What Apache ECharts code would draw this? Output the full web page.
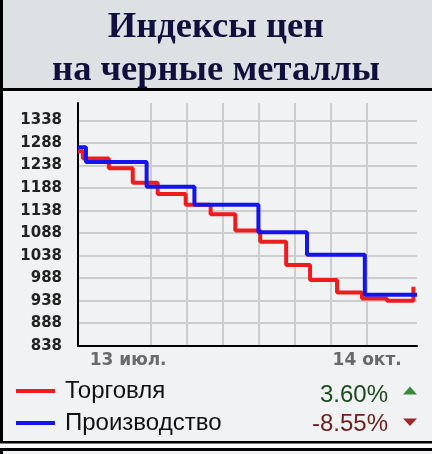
<!DOCTYPE html>
<html><head><meta charset="utf-8">
<script src="https://cdn.jsdelivr.net/npm/echarts@6/dist/echarts.min.js"></script>
<style>html,body{margin:0;padding:0;background:#f0f2f3;}#c{width:432px;height:454px;}</style>
</head><body><div id="c"></div>
<script>
const titleLines = ['Индексы цен', 'на черные металлы'];
const seriesNames = ['Торговля', 'Производство'];
const seriesColors = ['#ee1c1c', '#1414ee'];
// x values: days since 23 Jun 2008
const tradeDays = [0.5, 2.4, 12.5, 21.8, 31.5, 42.4, 52.1, 61.7, 71.4, 81.5, 90.8, 101.3, 111.0, 120.7, 131.0];
const tradeValues = [1270, 1254, 1232, 1200, 1175, 1151, 1130, 1094, 1069, 1017, 984, 956, 943, 938, 969];
const prodDays = [0.5, 3.6, 27.2, 45.8, 70.7, 89.6, 112.1, 132.4];
const prodValues = [1279, 1246, 1191, 1151, 1090, 1040, 951, 951];
const gridDays = [15, 29, 43, 57, 71, 85, 99, 113, 127];
const labelDays = [20, 113];
const labelTexts = ['13 июл.', '14 окт.'];
const changeTexts = ['3.60%', '-8.55%'];
const changeColors = ['#1f4a1f', '#6e1e1e'];
const arrowColors = ['#3a8a3a', '#9c2a2a'];
const yMin = 838, yMax = 1377, yStep = 50;
const xMin = 0.5, xMax = 132.4;

const chart = echarts.init(document.getElementById('c'), null, {renderer: 'canvas'});
const toPairs = (xs, ys) => xs.map((x, i) => [x, ys[i]]);
chart.setOption({
  animation: false,
  backgroundColor: '#f0f2f3',
  title: {
    text: titleLines.join('\n'), left: 'center', top: 1,
    textStyle: {fontFamily: 'Liberation Serif', fontWeight: 'bold', fontSize: 36.5, lineHeight: 43, color: '#10103e'}
  },
  graphic: [
    {type: 'rect', z: -10, shape: {x: 0, y: 0, width: 432, height: 88}, style: {fill: '#dde1e3'}},
    {type: 'rect', z: 10, shape: {x: 0, y: 88, width: 432, height: 3}, style: {fill: '#000'}},
    {type: 'rect', z: 10, shape: {x: 0, y: 0, width: 3, height: 443}, style: {fill: '#000'}},
    {type: 'rect', z: 10, shape: {x: 0, y: 441, width: 432, height: 2.5}, style: {fill: '#000'}},
    {type: 'rect', z: -10, shape: {x: 0, y: 443.5, width: 432, height: 4.5}, style: {fill: '#fafafa'}},
    {type: 'rect', z: 10, shape: {x: 0, y: 448, width: 432, height: 3}, style: {fill: '#000'}},
    {type: 'rect', z: 10, shape: {x: 0, y: 448, width: 3, height: 6}, style: {fill: '#000'}},
    {type: 'text', style: {x: 388, y: 395, text: changeTexts[0], align: 'right', verticalAlign: 'middle', fill: changeColors[0], font: '24px "Liberation Sans"'}},
    {type: 'text', style: {x: 388, y: 424, text: changeTexts[1], align: 'right', verticalAlign: 'middle', fill: changeColors[1], font: '24px "Liberation Sans"'}},
    {type: 'polygon', shape: {points: [[403, 394.5], [417, 394.5], [410, 386.5]]}, style: {fill: arrowColors[0]}},
    {type: 'polygon', shape: {points: [[403, 418.5], [417, 418.5], [410, 426]]}, style: {fill: arrowColors[1]}}
  ],
  legend: {
    orient: 'vertical', left: 16, top: 379, padding: 0, itemWidth: 39, itemHeight: 4, itemGap: 8, icon: 'rect',
    data: seriesNames,
    textStyle: {fontFamily: 'Liberation Sans', fontSize: 24, color: '#111', padding: [0, 0, 0, 5]}
  },
  grid: {left: 78, right: 15, top: 103, bottom: 108.3, containLabel: false},
  xAxis: {
    type: 'value', min: xMin, max: xMax,
    axisLine: {show: true, onZero: false, lineStyle: {color: '#000', width: 2}},
    axisTick: {show: false, customValues: gridDays},
    splitLine: {show: true, showMinLine: false, showMaxLine: false, lineStyle: {color: '#cdcdcd', width: 2}},
    axisLabel: {
      customValues: labelDays, margin: 6,
      formatter: v => labelTexts[labelDays.indexOf(v)] || '',
      fontFamily: 'DejaVu Sans', fontWeight: 'bold', fontSize: 17, color: '#6a6a6a'
    }
  },
  yAxis: {
    type: 'value', min: yMin, max: yMax, interval: yStep,
    axisLine: {show: true, lineStyle: {color: '#000', width: 2}},
    axisTick: {show: false},
    splitLine: {show: true, showMinLine: false, showMaxLine: false, lineStyle: {color: '#cdcdcd', width: 2}},
    axisLabel: {showMaxLabel: false, margin: 16, formatter: v => String(v),
      fontFamily: 'DejaVu Sans', fontWeight: 'bold', fontSize: 15, color: '#222'}
  },
  series: [
    {name: seriesNames[0], type: 'line', step: 'end', showSymbol: false, color: seriesColors[0],
     lineStyle: {width: 4, color: seriesColors[0]}, data: toPairs(tradeDays, tradeValues)},
    {name: seriesNames[1], type: 'line', step: 'end', showSymbol: false, color: seriesColors[1],
     lineStyle: {width: 4, color: seriesColors[1]}, data: toPairs(prodDays, prodValues)}
  ]
});
</script></body></html>
